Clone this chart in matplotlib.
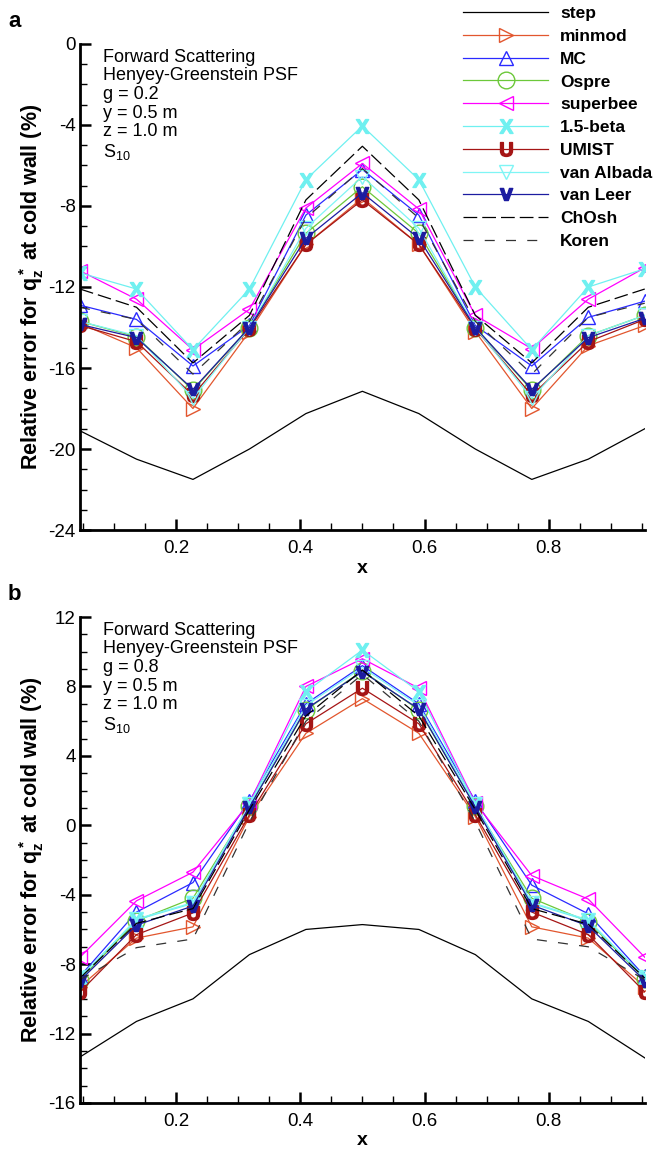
import numpy as np
import matplotlib
matplotlib.use("Agg")
import matplotlib.pyplot as plt
from matplotlib.ticker import MultipleLocator

plt.rcParams['font.family'] = ['Liberation Sans', 'DejaVu Sans']
plt.rcParams['mathtext.fontset'] = 'custom'
plt.rcParams['mathtext.rm'] = 'Liberation Sans'
plt.rcParams['mathtext.bf'] = 'Liberation Sans:bold'
plt.rcParams['mathtext.it'] = 'Liberation Sans:italic'
plt.rcParams['axes.unicode_minus'] = False

# cell centres along the wall
x = [0.0455, 0.1364, 0.2273, 0.3182, 0.4091, 0.5, 0.5909, 0.6818, 0.7727, 0.8636, 0.9545]

schemes = ['step', 'minmod', 'MC', 'Ospre', 'superbee', '1.5-beta', 'UMIST',
           'van Albada', 'van Leer', 'ChOsh', 'Koren']

# panel a, g = 0.2
a_step = [-19.1, -20.5, -21.5, -20.0, -18.25, -17.15, -18.25, -20.0, -21.5, -20.5, -19.0]
a_minmod = [-13.8, -15.0, -18.0, -14.2, -9.9, -7.6, -9.9, -14.2, -18.0, -14.9, -13.9]
a_mc = [-12.9, -13.6, -15.9, -13.9, -8.45, -6.2, -8.45, -13.9, -15.9, -13.5, -12.7]
a_ospre = [-13.7, -14.45, -17.1, -14.0, -9.35, -7.05, -9.35, -14.0, -17.1, -14.4, -13.4]
a_superbee = [-11.2, -12.6, -15.1, -13.1, -8.1, -5.9, -8.15, -13.4, -15.05, -12.6, -11.05]
a_beta = [-11.3, -12.1, -15.1, -12.1, -6.7, -4.05, -6.7, -12.0, -15.1, -12.0, -11.1]
a_umist = [-13.9, -14.7, -17.35, -14.05, -9.9, -7.7, -9.9, -14.05, -17.35, -14.7, -13.6]
a_albada = [-13.7, -14.4, -17.5, -14.0, -9.1, -6.55, -9.1, -14.0, -17.5, -14.4, -13.4]
a_leer = [-13.85, -14.5, -17.05, -14.0, -9.6, -7.35, -9.6, -14.0, -17.05, -14.5, -13.55]
a_chosh = [-12.1, -13.0, -15.75, -13.4, -7.7, -5.05, -7.7, -13.4, -15.75, -13.0, -12.1]
a_koren = [-13.0, -13.6, -16.3, -13.7, -8.6, -6.15, -8.6, -13.7, -16.3, -13.5, -12.8]

# panel b, g = 0.8
b_step = [-13.35, -11.3, -10.0, -7.45, -6.0, -5.72, -6.0, -7.45, -10.0, -11.3, -13.4]
b_minmod = [-9.3, -6.5, -5.85, 0.5, 5.3, 7.3, 5.3, 0.5, -5.85, -6.5, -9.3]
b_mc = [-8.7, -5.0, -3.3, 1.4, 7.0, 9.2, 7.0, 1.4, -3.45, -5.1, -8.7]
b_ospre = [-8.9, -5.5, -4.2, 1.1, 6.65, 8.9, 6.65, 1.1, -4.2, -5.55, -8.85]
b_superbee = [-7.6, -4.35, -2.7, 1.3, 8.0, 9.6, 7.9, 1.3, -2.9, -4.25, -7.6]
b_beta = [-8.75, -5.45, -4.5, 1.2, 7.7, 10.1, 7.7, 1.2, -4.5, -5.5, -8.75]
b_umist = [-9.6, -6.3, -5.05, 0.6, 5.85, 7.9, 5.85, 0.6, -5.0, -6.3, -9.6]
b_albada = [-8.8, -5.4, -4.45, 1.2, 6.9, 9.1, 6.9, 1.2, -4.45, -5.45, -8.8]
b_leer = [-8.95, -5.75, -4.65, 1.05, 6.7, 8.85, 6.7, 1.05, -4.6, -5.8, -8.95]
b_chosh = [-8.8, -5.65, -4.8, 0.9, 6.3, 8.95, 6.3, 0.9, -4.8, -5.7, -8.8]
b_koren = [-8.9, -7.05, -6.55, 0.2, 6.0, 8.7, 6.0, 0.2, -6.55, -7.0, -8.9]

data_a = [a_step, a_minmod, a_mc, a_ospre, a_superbee, a_beta, a_umist, a_albada, a_leer, a_chosh, a_koren]
data_b = [b_step, b_minmod, b_mc, b_ospre, b_superbee, b_beta, b_umist, b_albada, b_leer, b_chosh, b_koren]

# line styles per scheme
styles = {
    'step':       dict(color='black', lw=0.9),
    'minmod':     dict(color='#e2562e', lw=0.9, marker='>', ms=10, mfc='none'),
    'MC':         dict(color='#2a2aff', lw=0.9, marker='^', ms=10, mfc='none'),
    'Ospre':      dict(color='#6cc83a', lw=0.9, marker='o', ms=12, mfc='none'),
    'superbee':   dict(color='#ff00ff', lw=0.9, marker='<', ms=10, mfc='none'),
    '1.5-beta':   dict(color='#6ff0f0', lw=0.9, marker=r'$\mathbf{X}$', ms=10),
    'UMIST':      dict(color='#a51515', lw=0.9, marker=r'$\mathbf{U}$', ms=10),
    'van Albada': dict(color='#7ff5f5', lw=0.9, marker='v', ms=10, mfc='none'),
    'van Leer':   dict(color='#1c1ca0', lw=0.9, marker=r'$\mathbf{v}$', ms=9),
    'ChOsh':      dict(color='black', lw=0.9, dashes=(11, 4)),
    'Koren':      dict(color='#333333', lw=0.9, dashes=(8, 9)),
}

fig = plt.figure(figsize=(6.64, 11.54), dpi=100)
ax_a = fig.add_axes([0.1205, 0.5407, 0.8505, 0.4212])
ax_b = fig.add_axes([0.1205, 0.0442, 0.8505, 0.4211])

info = ["Forward Scattering\nHenyey-Greenstein PSF\ng = 0.2\ny = 0.5 m\nz = 1.0 m\nS$_{10}$",
        "Forward Scattering\nHenyey-Greenstein PSF\ng = 0.8\ny = 0.5 m\nz = 1.0 m\nS$_{10}$"]

for ax, data, ylim, txt in [(ax_a, data_a, (-24, 0), info[0]),
                            (ax_b, data_b, (-16, 12), info[1])]:
    for name, y in zip(schemes, data):
        ax.plot(x, y, label=name, **styles[name])
    ax.set_xlim(0.0455, 0.9545)
    ax.set_ylim(*ylim)
    ax.xaxis.set_major_locator(MultipleLocator(0.2))
    ax.xaxis.set_minor_locator(MultipleLocator(0.05))
    ax.yaxis.set_major_locator(MultipleLocator(4))
    ax.yaxis.set_minor_locator(MultipleLocator(1))
    for s in ['top', 'right']:
        ax.spines[s].set_visible(False)
    for s in ['left', 'bottom']:
        ax.spines[s].set_linewidth(2.0)
    ax.tick_params(which='major', direction='in', length=8, width=1.8, labelsize=13.5, pad=3)
    ax.tick_params(axis='x', which='major', pad=7)
    ax.tick_params(which='minor', direction='in', length=5, width=1.0)
    ax.set_xlabel('x', fontsize=14, fontweight='bold', labelpad=2)
    ax.set_ylabel(r'Relative error for $\mathbf{q_z^*}$ at cold wall (%)',
                  fontsize=15.5, fontweight='bold', labelpad=2)
    ax.text(0.04, 0.99, txt, transform=ax.transAxes, va='top', ha='left',
            fontsize=13, linespacing=1.12)

fig.text(0.012, 1 - 11 / 1154, 'a', fontsize=16, fontweight='bold', va='top', ha='left')
fig.text(0.012, 1 - 584 / 1154, 'b', fontsize=16, fontweight='bold', va='top', ha='left')

handles, labels = ax_a.get_legend_handles_labels()
fig.legend(handles, labels, loc='upper left', bbox_to_anchor=(463 / 664, 1 - 6 / 1154),
           frameon=False, prop={'weight': 'bold', 'size': 12.5},
           handlelength=4.9, labelspacing=0.44, handletextpad=0.7, borderpad=0,
           borderaxespad=0)

plt.savefig("out.png", dpi=100)
plt.close()
